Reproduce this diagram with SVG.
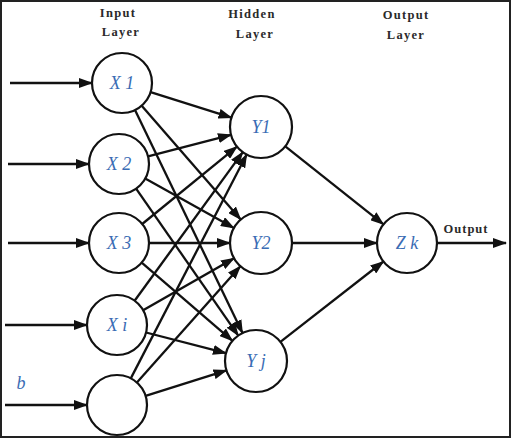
<svg xmlns="http://www.w3.org/2000/svg" width="511" height="438" viewBox="0 0 511 438">
<style>
.hdr{font-family:"Liberation Serif","DejaVu Serif",serif;font-size:12.5px;font-weight:bold;fill:#2a2a2a;letter-spacing:1.3px;text-anchor:middle}
.lbl{font-family:"Liberation Serif","DejaVu Serif",serif;font-size:18px;font-style:italic;fill:#3a6cb4;text-anchor:middle}
.node{fill:#fff;stroke:#111;stroke-width:2.2}
.conn line{stroke:#111;stroke-width:2.3;marker-end:url(#ah)}
</style>
<defs>
<marker id="ah" markerWidth="14" markerHeight="10" refX="13" refY="5" orient="auto" markerUnits="userSpaceOnUse">
<path d="M0,0 L14,5 L0,10 Z" fill="#111"/>
</marker>
</defs>
<rect x="1" y="1" width="509" height="436" fill="#fff" stroke="#222" stroke-width="2"/>
<g id="headers">
<text class="hdr" x="118" y="17">Input</text>
<text class="hdr" x="121" y="36">Layer</text>
<text class="hdr" x="252" y="18">Hidden</text>
<text class="hdr" x="255" y="38">Layer</text>
<text class="hdr" x="406" y="19">Output</text>
<text class="hdr" x="406" y="39">Layer</text>
</g>
<g id="connectors" class="conn">
<line x1="10" y1="83" x2="92" y2="83"/>
<line x1="8" y1="164" x2="89" y2="164"/>
<line x1="8" y1="243" x2="89" y2="243"/>
<line x1="5" y1="325" x2="87" y2="325"/>
<line x1="5" y1="405" x2="87" y2="405"/>
<line x1="150.6" y1="92.1" x2="231.5" y2="117.6"/>
<line x1="141.7" y1="105.7" x2="240.7" y2="219.6"/>
<line x1="135.0" y1="110.0" x2="242.5" y2="333.1"/>
<line x1="148.0" y1="156.4" x2="231.0" y2="134.8"/>
<line x1="145.2" y1="178.6" x2="233.9" y2="227.9"/>
<line x1="136.1" y1="188.6" x2="238.3" y2="335.6"/>
<line x1="142.2" y1="224.0" x2="237.0" y2="146.6"/>
<line x1="149" y1="243" x2="230" y2="243"/>
<line x1="141.7" y1="262.6" x2="232.5" y2="340.8"/>
<line x1="134.6" y1="300.7" x2="242.8" y2="152.1"/>
<line x1="143.1" y1="310.2" x2="234.1" y2="258.3"/>
<line x1="146.0" y1="332.5" x2="226.0" y2="353.2"/>
<line x1="130.8" y1="378.4" x2="246.7" y2="154.5"/>
<line x1="136.9" y1="382.6" x2="240.4" y2="266.2"/>
<line x1="145.6" y1="395.9" x2="226.5" y2="370.4"/>
<line x1="285.3" y1="146.3" x2="383.5" y2="224.3"/>
<line x1="292" y1="243" x2="377" y2="243"/>
<line x1="280.4" y1="341.9" x2="383.4" y2="261.5"/>
<line x1="437" y1="243" x2="506" y2="243"/>
</g>
<g id="X1"><circle class="node" cx="122" cy="83" r="30"/><text class="lbl" x="122" y="89">X 1</text></g>
<g id="X2"><circle class="node" cx="119" cy="164" r="30"/><text class="lbl" x="119" y="170">X 2</text></g>
<g id="X3"><circle class="node" cx="119" cy="243" r="30"/><text class="lbl" x="119" y="249">X 3</text></g>
<g id="Xi"><circle class="node" cx="117" cy="325" r="30"/><text class="lbl" x="117" y="331">X i</text></g>
<g id="B"><circle class="node" cx="117" cy="405" r="30"/></g>
<g id="Y1"><circle class="node" cx="261" cy="127" r="31"/><text class="lbl" x="261" y="133">Y1</text></g>
<g id="Y2"><circle class="node" cx="261" cy="243" r="31"/><text class="lbl" x="261" y="249">Y2</text></g>
<g id="Yj"><circle class="node" cx="256" cy="361" r="31"/><text class="lbl" x="256" y="367">Y j</text></g>
<g id="Zk"><circle class="node" cx="407" cy="243" r="30"/><text class="lbl" x="407" y="249">Z k</text></g>
<text class="lbl" x="21" y="389">b</text>
<text x="466" y="233" style="font-family:'Liberation Serif','DejaVu Serif',serif;font-size:12.5px;font-weight:bold;fill:#2a2a2a;letter-spacing:1px;text-anchor:middle">Output</text>
</svg>
